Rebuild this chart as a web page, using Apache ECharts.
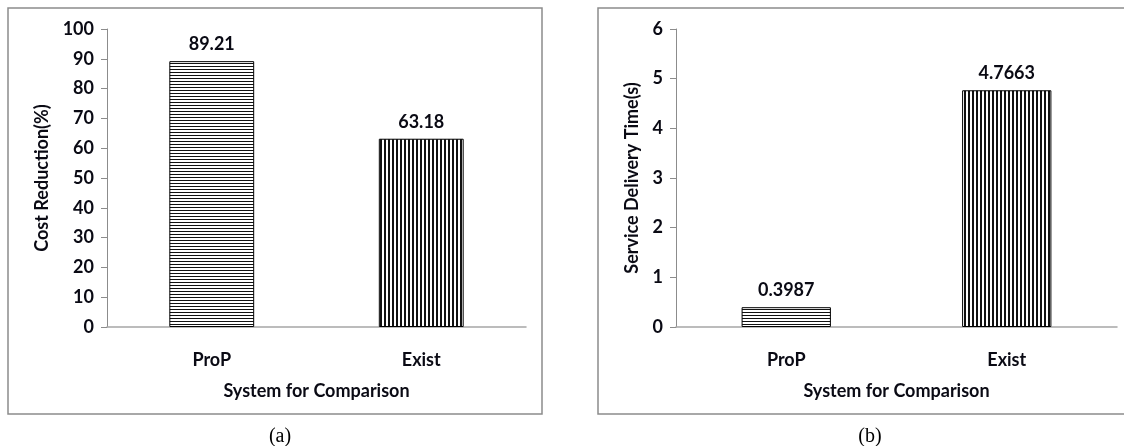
<!DOCTYPE html>
<html>
<head>
<meta charset="utf-8">
<script src="https://cdn.jsdelivr.net/npm/echarts@6/dist/echarts.min.js"></script>
<style>
  html, body { margin: 0; padding: 0; background: #fff; }
  #main { width: 1124px; height: 446px; }
</style>
</head>
<body>
<div id="main"></div>
<script>
// data
const categories = ['ProP', 'Exist'];
const costReduction = [89.21, 63.18];
const deliveryTime = [0.3987, 4.7663];

const font = 'Lato, "Open Sans", sans-serif';

// stripe fills like the excel patterns
function stripes(horizontal) {
    const c = document.createElement('canvas');
    const ctx = c.getContext('2d');
    if (horizontal) {
        c.width = 4; c.height = 3;
        ctx.fillStyle = '#fff'; ctx.fillRect(0, 0, 4, 3);
        ctx.fillStyle = '#111'; ctx.fillRect(0, 0, 4, 1);
    } else {
        c.width = 4; c.height = 4;
        ctx.fillStyle = '#fff'; ctx.fillRect(0, 0, 4, 4);
        ctx.fillStyle = '#111'; ctx.fillRect(0, 0, 2, 4);
    }
    return { image: c, repeat: 'repeat' };
}
const hFill = stripes(true);
const vFill = stripes(false);

function barData(values) {
    return values.map(function (v, i) {
        return { value: v, itemStyle: { color: i === 0 ? hFill : vFill } };
    });
}

const textBold = { color: '#0a0a14', fontFamily: font, fontWeight: 'bold', fontSize: 18 };

function yAxis(gridIndex, max, interval, name, gap) {
    return {
        type: 'value', gridIndex: gridIndex, min: 0, max: max, interval: interval,
        name: name, nameLocation: 'middle', nameGap: gap, nameRotate: 90,
        nameTextStyle: textBold,
        axisLine: { show: true, lineStyle: { color: '#8c8c8c', width: 1 } },
        axisTick: { show: true, length: 6, lineStyle: { color: '#8c8c8c' } },
        axisLabel: Object.assign({ margin: 13 }, textBold),
        splitLine: { show: false }
    };
}

function xAxis(gridIndex) {
    return {
        type: 'category', gridIndex: gridIndex, data: categories,
        name: 'System for Comparison', nameLocation: 'middle', nameGap: 55,
        nameTextStyle: textBold,
        axisLine: { lineStyle: { color: '#a6a6a6', width: 1.5 } },
        axisTick: { show: false },
        axisLabel: Object.assign({ margin: 24 }, textBold)
    };
}

const chart = echarts.init(document.getElementById('main'));
chart.setOption({
    backgroundColor: '#fff',
    animation: false,
    title: [
        { text: '(a)', left: 275, top: 422, textAlign: 'center',
          textStyle: { fontFamily: '"Liberation Serif", serif', fontWeight: 'normal', fontSize: 20, color: '#000' } },
        { text: '(b)', left: 865, top: 422, textAlign: 'center',
          textStyle: { fontFamily: '"Liberation Serif", serif', fontWeight: 'normal', fontSize: 20, color: '#000' } }
    ],
    graphic: [
        { type: 'rect', shape: { x: 8, y: 8, width: 534, height: 406 },
          style: { fill: 'none', stroke: '#8c8c8c', lineWidth: 1.5 } },
        { type: 'rect', shape: { x: 598, y: 8, width: 540, height: 406 },
          style: { fill: 'none', stroke: '#8c8c8c', lineWidth: 1.5 } }
    ],
    grid: [
        { left: 107, top: 29, width: 419, height: 298 },
        { left: 676, top: 29, width: 441, height: 298 }
    ],
    xAxis: [xAxis(0), xAxis(1)],
    yAxis: [
        yAxis(0, 100, 10, 'Cost Reduction(%)', 56),
        yAxis(1, 6, 1, 'Service Delivery Time(s)', 35)
    ],
    series: [
        {
            type: 'bar', xAxisIndex: 0, yAxisIndex: 0, barWidth: '40.5%',
            data: barData(costReduction),
            itemStyle: { borderColor: '#000', borderWidth: 1 },
            label: Object.assign({ show: true, position: 'top', distance: 8 }, textBold)
        },
        {
            type: 'bar', xAxisIndex: 1, yAxisIndex: 1, barWidth: '40.5%',
            data: barData(deliveryTime),
            itemStyle: { borderColor: '#000', borderWidth: 1 },
            label: Object.assign({ show: true, position: 'top', distance: 8 }, textBold)
        }
    ]
});
</script>
</body>
</html>
